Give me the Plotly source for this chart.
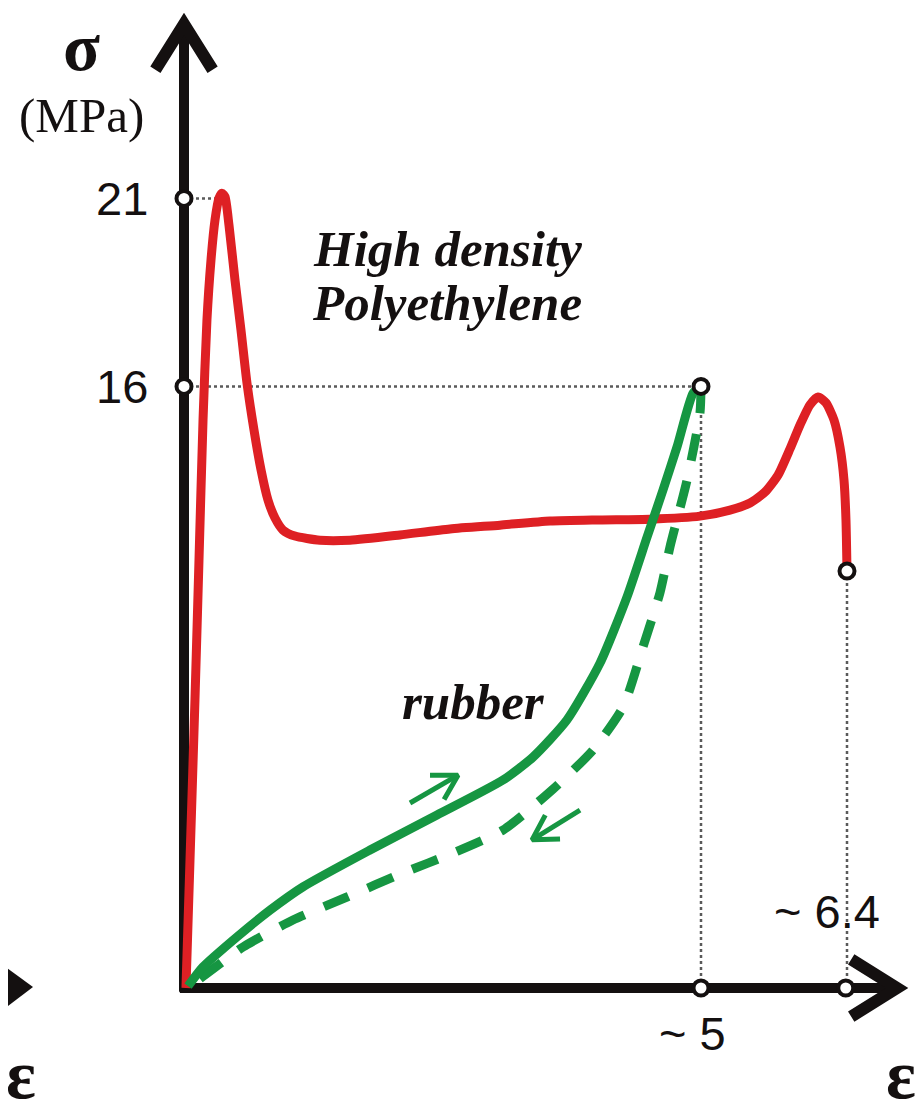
import math
import plotly.graph_objects as go

# ---------------- data (strain ε, stress σ in MPa) ----------------
hdpe_eps = [0.019, 0.058, 0.106, 0.145, 0.184, 0.222, 0.261, 0.300, 0.338, 0.367,
            0.397, 0.435, 0.493, 0.551, 0.609, 0.677, 0.745, 0.812, 0.880, 0.957,
            1.073, 1.315, 1.605, 2.089, 2.573, 3.056, 3.540, 4.023, 4.507, 4.990,
            5.280, 5.474, 5.619, 5.745, 5.861, 5.957, 6.054, 6.132, 6.209, 6.286,
            6.344, 6.383, 6.402, 6.412]
hdpe_sig = [0.0, 3.40, 7.66, 11.38, 15.11, 17.77, 19.36, 20.43, 21.01, 21.14,
            21.04, 20.29, 18.83, 17.50, 16.09, 14.84, 13.78, 12.98, 12.50, 12.18,
            12.02, 11.91, 11.91, 12.05, 12.21, 12.31, 12.42, 12.45, 12.47, 12.55,
            12.71, 12.90, 13.19, 13.64, 14.34, 14.97, 15.51, 15.72, 15.56, 15.11,
            14.39, 13.51, 12.45, 11.09]

rubber_load_eps = [0.039, 0.184, 0.513, 0.832, 1.151, 1.799, 2.447, 3.085, 3.375,
                   3.704, 4.023, 4.284, 4.478, 4.632, 4.768, 4.923, 5.000]
rubber_load_sig = [0.05, 0.56, 1.36, 2.07, 2.69, 3.67, 4.60, 5.53, 6.14,
                   7.13, 8.64, 10.40, 11.99, 13.24, 14.39, 15.82, 16.0]

rubber_unload_eps = [5.000, 4.990, 4.865, 4.700, 4.603, 4.439, 4.246, 3.956, 3.569,
                     3.085, 2.602, 2.118, 1.576, 1.054, 0.571, 0.203, 0.077]
rubber_unload_sig = [16.0, 15.29, 13.51, 11.73, 10.51, 9.07, 7.47, 6.33, 5.29,
                     4.20, 3.59, 3.06, 2.42, 1.81, 1.09, 0.35, 0.08]

# marked values
sigma_ticks = [21, 16]
sigma_tick_labels = ["21", "16"]
eps_marks = [5.0, 6.4]
eps_mark_labels = ["~ 5", "~ 6.4"]
rubber_end = (5.0, 16.0)
hdpe_break = (6.412, 11.09)

# direction arrows on the rubber curves: (tail, tip)
load_arrow = ((2.186, 4.92), (2.650, 5.66))
unload_arrow = ((3.830, 4.73), (3.366, 3.94))

# ---------------- layout constants ----------------
W, H = 923, 1103
PAGE_OFF = 8                   # default page margin around the figure
OX, OY = 184.0, 988.0          # window-pixel position of origin
PXE, PXS = 103.4, 37.6         # pixels per unit ε, per MPa
XR = [(PAGE_OFF - OX) / PXE, (W + PAGE_OFF - OX) / PXE]
YR = [(OY - H - PAGE_OFF) / PXS, (OY - PAGE_OFF) / PXS]

RED = "rgb(222,32,36)"
GREEN = "rgb(22,150,66)"
BLACK = "rgb(20,16,16)"
DOT = "rgb(90,90,90)"


def to_px(e, s):
    return OX + e * PXE, OY - s * PXS


def to_data(px, py):
    return (px - OX) / PXE, (OY - py) / PXS


def chevron(tail, tip, length, ang_deg):
    tx, ty = to_px(*tip)
    ax, ay = to_px(*tail)
    d = math.atan2(ay - ty, ax - tx)  # back direction
    pts = []
    for sgn in (1, -1):
        a = d + sgn * math.radians(ang_deg)
        pts.append(to_data(tx + length * math.cos(a), ty + length * math.sin(a)))
    return [pts[0][0], tip[0], pts[1][0]], [pts[0][1], tip[1], pts[1][1]]


fig = go.Figure()


def line(xs, ys, color, width, dash="solid", shape="linear"):
    fig.add_trace(go.Scatter(x=xs, y=ys, mode="lines", hoverinfo="skip",
                             line=dict(color=color, width=width, dash=dash, shape=shape,
                                       smoothing=0.6 if shape == "spline" else None),
                             showlegend=False))


# dotted guide lines
line([0, 0.30], [21, 21], DOT, 2.5, dash="3px,3px")
line([0, rubber_end[0]], [16, 16], DOT, 2.5, dash="3px,3px")
line([rubber_end[0], rubber_end[0]], [0, rubber_end[1]], DOT, 2.5, dash="3px,3px")
line([hdpe_break[0], hdpe_break[0]], [0, hdpe_break[1]], DOT, 2.5, dash="3px,3px")

# axes (chevron joint points set back so the mitred tips land where drawn)
y_top = to_data(OX, 24)[1]
x_right = to_data(897, OY)[0]
line([0, 0], [-0.1, y_top], BLACK, 10)
line([-0.04, x_right], [0, 0], BLACK, 10)
cx, cy = chevron((0, 0), (0, y_top), 54, 32)
line(cx, cy, BLACK, 12)
cx, cy = chevron((0, 0), (x_right, 0), 54, 32)
line(cx, cy, BLACK, 12)

# neighbouring panel's axis arrow head (cut at the left edge)
tri = [to_data(-4, 960), to_data(33, 987), to_data(-4, 1015)]
fig.add_trace(go.Scatter(x=[p[0] for p in tri], y=[p[1] for p in tri], mode="lines",
                         fill="toself", fillcolor=BLACK, line=dict(width=0, color=BLACK),
                         hoverinfo="skip", showlegend=False))

# curves
line(hdpe_eps, hdpe_sig, RED, 9, shape="spline")
line(rubber_unload_eps, rubber_unload_sig, GREEN, 9, dash="27px,21px", shape="spline")
line(rubber_load_eps, rubber_load_sig, GREEN, 9, shape="spline")

# direction arrows
for tail, tip in (load_arrow, unload_arrow):
    line([tail[0], tip[0]], [tail[1], tip[1]], GREEN, 5)
    cx, cy = chevron(tail, tip, 28, 30)
    line(cx, cy, GREEN, 5)

# open markers
mx = [0, 0, rubber_end[0], eps_marks[0], eps_marks[1], hdpe_break[0]]
my = [sigma_ticks[0], sigma_ticks[1], rubber_end[1], 0, 0, hdpe_break[1]]
fig.add_trace(go.Scatter(x=mx, y=my, mode="markers", hoverinfo="skip", showlegend=False,
                         marker=dict(size=15, color="white",
                                     line=dict(color=BLACK, width=4))))

SANS = "Liberation Sans, Arial, sans-serif"
SERIF = "Liberation Serif, Times New Roman, serif"
ann = []
for v, t in zip(sigma_ticks, sigma_tick_labels):
    ann.append(dict(x=to_data(150, 0)[0], y=v, text=t, xanchor="right", yanchor="middle",
                    font=dict(family=SANS, size=47, color=BLACK)))
ann.append(dict(x=eps_marks[0], y=to_data(0, 1033)[1], text=eps_mark_labels[0], xshift=-9,
                xanchor="center", yanchor="middle", font=dict(family=SANS, size=47, color=BLACK)))
ann.append(dict(x=eps_marks[1], y=to_data(0, 911)[1], text=eps_mark_labels[1], xshift=-19,
                xanchor="center", yanchor="middle", font=dict(family=SANS, size=47, color=BLACK)))
ann.append(dict(x=to_data(81, 0)[0], y=to_data(0, 47)[1], text="<b>σ</b>",
                xanchor="center", yanchor="middle", font=dict(family=SERIF, size=68, color=BLACK)))
ann.append(dict(x=to_data(81, 0)[0], y=to_data(0, 115)[1], text="(MPa)",
                xanchor="center", yanchor="middle", font=dict(family=SERIF, size=49, color=BLACK)))
ann.append(dict(x=to_data(447, 0)[0], y=to_data(0, 249)[1], text="<b><i>High density</i></b>",
                xanchor="center", yanchor="middle", font=dict(family=SERIF, size=51, color=BLACK)))
ann.append(dict(x=to_data(447, 0)[0], y=to_data(0, 303)[1], text="<b><i>Polyethylene</i></b>",
                xanchor="center", yanchor="middle", font=dict(family=SERIF, size=51, color=BLACK)))
ann.append(dict(x=to_data(473, 0)[0], y=to_data(0, 702)[1], text="<b><i>rubber</i></b>",
                xanchor="center", yanchor="middle", font=dict(family=SERIF, size=51, color=BLACK)))
for px in (21, 901):
    ann.append(dict(x=to_data(px, 0)[0], y=to_data(0, 1074)[1], text="<b>ε</b>",
                    xanchor="center", yanchor="middle", font=dict(family=SERIF, size=70, color=BLACK)))
for a in ann:
    a.update(xref="x", yref="y", showarrow=False)

fig.update_layout(width=W, height=H, margin=dict(l=0, r=0, t=0, b=0),
                  paper_bgcolor="white", plot_bgcolor="white",
                  xaxis=dict(range=XR, visible=False, fixedrange=True),
                  yaxis=dict(range=YR, visible=False, fixedrange=True),
                  annotations=ann, showlegend=False)
fig.write_html("out.html")
